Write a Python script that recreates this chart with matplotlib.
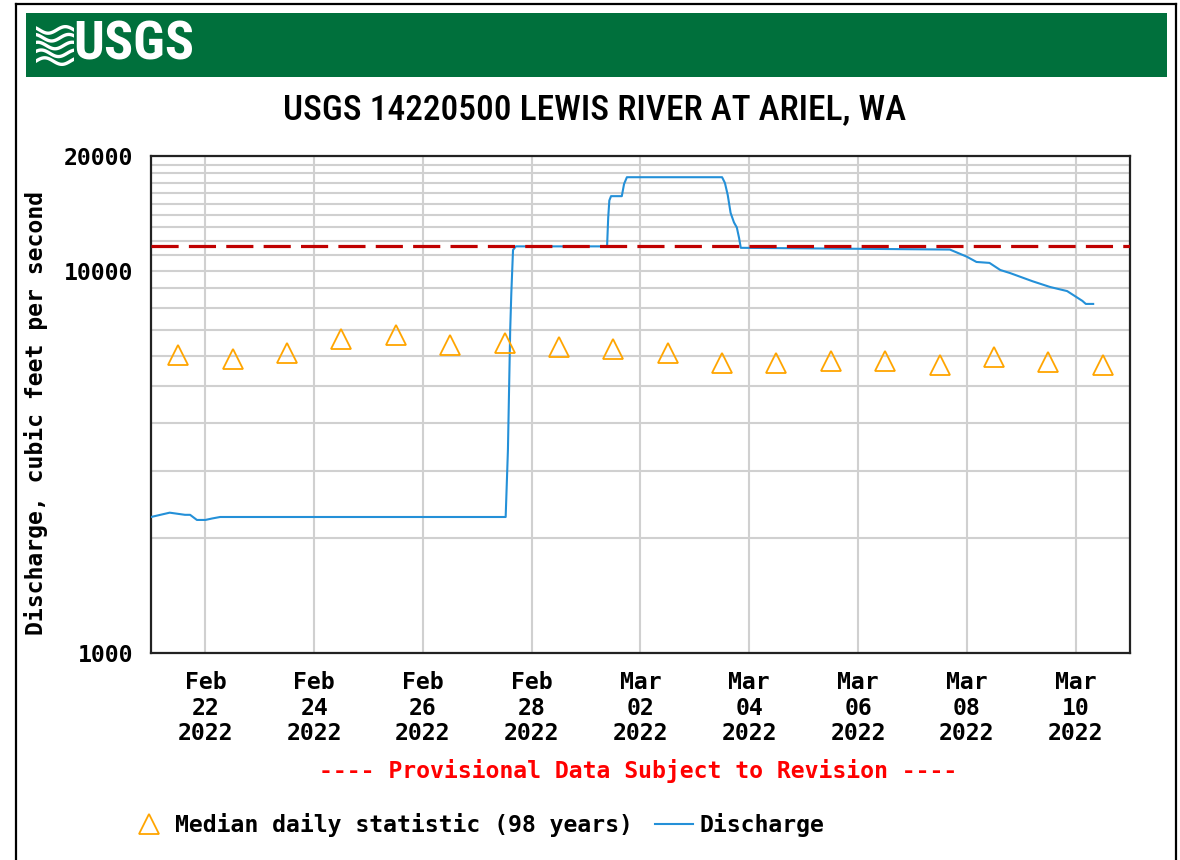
import numpy as np
import pandas as pd
import matplotlib
matplotlib.use("Agg")
import matplotlib.pyplot as plt
import matplotlib.dates as mdates
from matplotlib.lines import Line2D
from matplotlib.patches import Rectangle
from matplotlib.ticker import FixedLocator, NullFormatter

# discharge readings (cfs)
q_times = [
    "2022-02-21 00:00", "2022-02-21 08:15", "2022-02-21 15:00", "2022-02-21 17:15",
    "2022-02-21 20:15", "2022-02-22 00:00", "2022-02-22 03:00", "2022-02-22 06:30",
    "2022-02-27 12:30", "2022-02-27 13:30", "2022-02-27 14:30", "2022-02-27 15:00",
    "2022-02-27 15:45", "2022-02-27 17:00", "2022-03-01 09:15", "2022-03-01 09:45",
    "2022-03-01 10:15", "2022-03-01 11:00", "2022-03-01 15:45", "2022-03-01 16:45",
    "2022-03-01 18:00", "2022-03-03 12:00", "2022-03-03 13:15", "2022-03-03 14:30",
    "2022-03-03 15:45", "2022-03-03 17:15", "2022-03-03 18:30", "2022-03-03 19:30",
    "2022-03-03 20:15", "2022-03-07 16:30", "2022-03-08 00:00", "2022-03-08 04:15",
    "2022-03-08 10:00", "2022-03-08 14:45", "2022-03-08 19:00", "2022-03-09 05:00",
    "2022-03-09 12:45", "2022-03-09 20:15", "2022-03-10 03:00", "2022-03-10 04:30",
    "2022-03-10 07:45",
]
q_values = [
    2270, 2330, 2300, 2300,
    2230, 2230, 2250, 2270,
    2270, 3400, 7000, 8760,
    11350, 11600, 11600, 13800,
    15300, 15700, 15700, 16900,
    17600, 17600, 17000, 15800,
    14200, 13400, 13000, 12200,
    11500, 11380, 10900, 10560,
    10500, 10060, 9880, 9400,
    9080, 8860, 8350, 8200,
    8200,
]

# median daily statistic (98 years)
median_days = pd.date_range("2022-02-21 12:00", "2022-03-10 12:00", freq="D")
median_values = [6030, 5880, 6100, 6640, 6800, 6400, 6480, 6330, 6250,
                 6100, 5740, 5740, 5810, 5810, 5680, 5960, 5780, 5680]

threshold = 11650

mono = "DejaVu Sans Mono"
narrow = ["Roboto Condensed", "Liberation Sans Narrow", "Liberation Sans"]
fs = 16.7

fig = plt.figure(figsize=(11.8, 8.6), dpi=100)
W, H = 1180, 860

def fx(px):
    return px / W

def fy(py):
    return 1 - py / H

# outer frame and banner
for xs, ys in [([16, 16], [4, 860]), ([16, 1176], [4, 4]), ([1176, 1176], [4, 860])]:
    fig.add_artist(Line2D([fx(v) for v in xs], [fy(v) for v in ys], color="black", lw=1.6))
fig.add_artist(Rectangle((fx(26), fy(77)), fx(1167 - 26), (77 - 13) / H,
                         facecolor="#00703c", edgecolor="none", zorder=-1))
fig.text(fx(73), fy(45), "USGS", color="white", fontsize=39, fontweight="bold",
         family=narrow, va="center", ha="left")

# wave icon of the logo
logo = fig.add_axes([fx(36), fy(66), fx(38), 41 / H])
logo.set_zorder(3)
t = np.linspace(0, 1, 60)
for k in range(5):
    logo.plot(t, 0.12 + k * 0.19 + 0.08 * np.sin(2 * np.pi * (t * 1.1 + 0.1 * k)),
              color="white", lw=2.4)
logo.set_xlim(0, 1)
logo.set_ylim(0, 1)
logo.axis("off")

fig.text(fx(595), fy(110), "USGS 14220500 LEWIS RIVER AT ARIEL, WA", fontsize=25.5,
         fontweight="medium", family=narrow, ha="center", va="center")

ax = fig.add_axes([fx(151), fy(653), fx(1130 - 151), (653 - 156) / H])
ax.set_yscale("log")
ax.set_ylim(1000, 20000)
ax.set_xlim(pd.Timestamp("2022-02-21"), pd.Timestamp("2022-03-11"))

ax.set_yticks([1000, 10000, 20000])
ax.set_yticklabels(["1000", "10000", "20000"])
minors = list(range(2000, 10000, 1000)) + list(range(11000, 20000, 1000))
ax.yaxis.set_minor_locator(FixedLocator(minors))
ax.yaxis.set_minor_formatter(NullFormatter())

xt = pd.date_range("2022-02-22", "2022-03-10", freq="2D")
ax.set_xticks(xt)
ax.xaxis.set_major_formatter(mdates.DateFormatter("%b\n%d\n%Y"))
ax.xaxis.set_minor_locator(FixedLocator([]))

ax.tick_params(axis="both", which="both", length=0)
ax.tick_params(axis="y", pad=13)
ax.tick_params(axis="x", pad=13)
for lab in ax.get_xticklabels() + ax.get_yticklabels():
    lab.set_family(mono)
    lab.set_fontweight("bold")
    lab.set_fontsize(fs)
for lab in ax.get_xticklabels():
    lab.set_linespacing(1.14)

ax.grid(True, which="both", axis="y", color="#d0d0d0", lw=1.5)
ax.grid(True, which="major", axis="x", color="#d0d0d0", lw=1.5)
ax.set_axisbelow(True)
for s in ax.spines.values():
    s.set_linewidth(1.6)
    s.set_color("#222222")

ax.set_ylabel("Discharge, cubic feet per second", family=mono, fontweight="bold",
              fontsize=fs)
ax.yaxis.set_label_coords((48 - 151) / 979, 0.482)

ax.plot(pd.to_datetime(q_times), q_values, color="#2490d8", lw=1.5, zorder=3)
dash = ax.axhline(threshold, color="#c00000", lw=2.3, zorder=4)
dash.set_dashes([8.5, 3.2])
ax.plot(median_days, median_values, ls="none", marker="^", ms=14, mfc="none",
        mec="#ffa500", mew=1.3, zorder=5)

fig.text(fx(638), fy(771), "---- Provisional Data Subject to Revision ----",
         color="#ff0000", family=mono, fontweight="bold", fontsize=fs,
         ha="center", va="center")

handles = [
    Line2D([], [], ls="none", marker="^", ms=14, mfc="none", mec="#ffa500", mew=1.3),
    Line2D([], [], color="#2490d8", lw=1.5),
]
fig.legend(handles, ["Median daily statistic (98 years)", "Discharge"], ncol=2,
           loc="center left", bbox_to_anchor=(fx(118), fy(825)), frameon=False,
           prop={"family": mono, "weight": "bold", "size": fs},
           handlelength=1.65, handletextpad=0.3, columnspacing=0.95, borderpad=0)

fig.savefig("out.png", dpi=100)
